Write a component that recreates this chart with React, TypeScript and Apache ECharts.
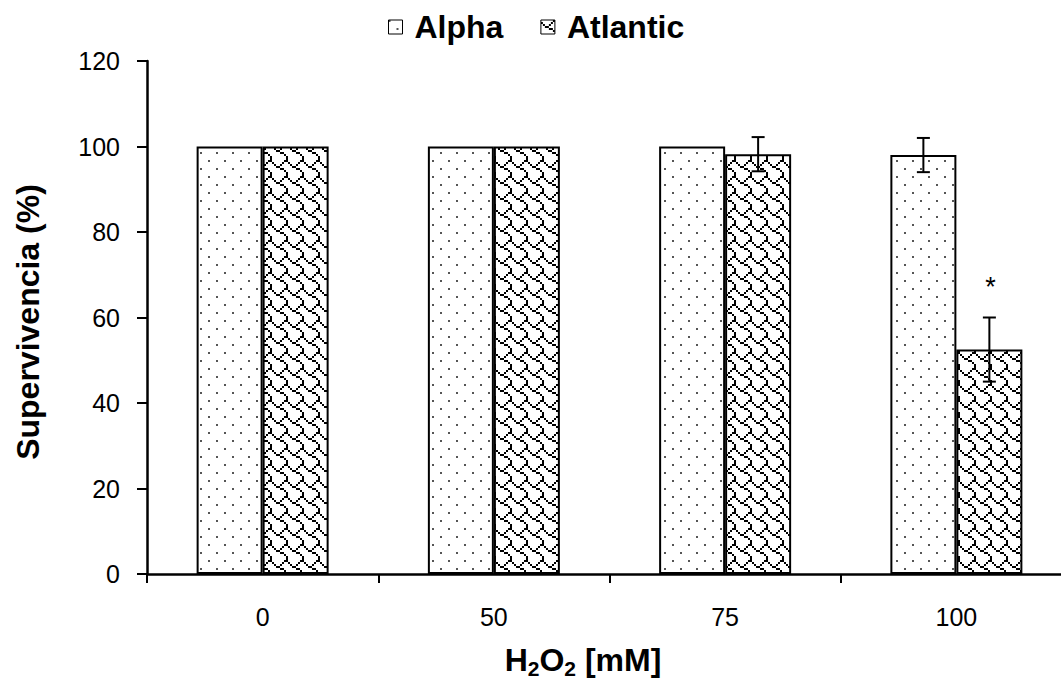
import React, { useEffect, useRef } from "react";
import * as echarts from "echarts";

// H2O2 concentrations (mM) and survival values (%) for each line
const categories = ["0", "50", "75", "100"];
const alphaMeans = [100, 100, 100, 98];
const alphaErrors = [0, 0, 0, 4];
const atlanticMeans = [100, 100, 98.2, 52.5];
const atlanticErrors = [0, 0, 4, 7.5];
const alphaMarks = ["", "", "", ""];
const atlanticMarks = ["", "", "", "*"];
const seriesNames = ["Alpha", "Atlantic"];

const FONT = "'Liberation Sans', Arial, sans-serif";
const BAR_WIDTH = 66;

// 8x8 fill bitmaps (MSB = leftmost pixel)
const dotBits = [0x80, 0x00, 0x00, 0x00, 0x08, 0x00, 0x00, 0x00];
const shingleBits = [0x03, 0x84, 0x48, 0x30, 0x0c, 0x02, 0x01, 0x01];

function bitmapTile(rows: number[], scale: number, color: string, dot: number) {
  const c = document.createElement("canvas");
  c.width = 8 * scale;
  c.height = 8 * scale;
  const ctx = c.getContext("2d")!;
  ctx.fillStyle = "#ffffff";
  ctx.fillRect(0, 0, c.width, c.height);
  ctx.fillStyle = color;
  rows.forEach((bits, r) => {
    for (let col = 0; col < 8; col++) {
      if (bits & (0x80 >> col)) ctx.fillRect(col * scale, r * scale, dot, dot);
    }
  });
  return c;
}

function errorSeries(means: number[], errors: number[], marks: string[], side: number) {
  return {
    type: "custom",
    silent: true,
    z: 10,
    data: means.map((m, i) => [i, m, errors[i], side]),
    renderItem: (params: any, api: any) => {
      const cat = api.value(0);
      const mean = api.value(1);
      const err = api.value(2);
      const s = api.value(3);
      const base = api.coord([cat, mean]);
      const x = base[0] + (s * BAR_WIDTH) / 2;
      const top = api.coord([cat, mean + err])[1];
      const bottom = api.coord([cat, mean - err])[1];
      const children: any[] = [];
      const ls = { stroke: "#000", lineWidth: 2 };
      if (err > 0) {
        children.push({ type: "line", shape: { x1: x, y1: top, x2: x, y2: bottom }, style: ls });
        children.push({ type: "line", shape: { x1: x - 6.5, y1: top, x2: x + 6.5, y2: top }, style: ls });
        children.push({ type: "line", shape: { x1: x - 6.5, y1: bottom, x2: x + 6.5, y2: bottom }, style: ls });
      }
      const mark = marks[params.dataIndex];
      if (mark) {
        children.push({
          type: "text",
          x: x + 1,
          y: top - 17,
          style: {
            text: mark,
            font: `27px ${FONT}`,
            fill: "#000",
            align: "center",
            verticalAlign: "bottom",
          },
        });
      }
      return { type: "group", children };
    },
  };
}

export default function App() {
  const ref = useRef<HTMLDivElement>(null);

  useEffect(() => {
    if (!ref.current) return;
    const chart = echarts.init(ref.current, null, { renderer: "svg" });

    const dotTile = bitmapTile(dotBits, 2, "#555555", 2);
    const shingleTile = bitmapTile(shingleBits, 2, "#000000", 2);

    const barStyle = (tile: HTMLCanvasElement) => ({
      color: { image: tile, repeat: "repeat", imageWidth: 16, imageHeight: 16 } as any,
      borderColor: "#000",
      borderWidth: 2,
    });

    chart.setOption({
      animation: false,
      backgroundColor: "#ffffff",
      textStyle: { fontFamily: FONT, color: "#000" },
      legend: {
        data: seriesNames,
        left: 383,
        top: 6,
        icon: "rect",
        itemWidth: 14,
        itemHeight: 14,
        itemGap: 37,
        itemStyle: { borderColor: "#000", borderWidth: 1 },
        textStyle: {
          fontSize: 32,
          fontWeight: "bold",
          fontFamily: FONT,
          color: "#000",
          padding: [0, 0, 0, 7],
        },
      },
      grid: { left: 147, top: 61, width: 925, height: 513, containLabel: false },
      xAxis: {
        type: "category",
        data: categories,
        axisLine: { lineStyle: { color: "#000", width: 2.5 } },
        axisTick: { show: true, length: 9, lineStyle: { color: "#000", width: 2 } },
        axisLabel: { fontSize: 25, color: "#000", fontFamily: FONT, margin: 30 },
      },
      yAxis: {
        type: "value",
        min: 0,
        max: 120,
        interval: 20,
        splitLine: { show: false },
        axisLine: { show: true, lineStyle: { color: "#000", width: 2.5 } },
        axisTick: { show: true, length: 10, lineStyle: { color: "#000", width: 2 } },
        axisLabel: { fontSize: 25, color: "#000", fontFamily: FONT, margin: 27 },
      },
      series: [
        {
          name: seriesNames[0],
          type: "bar",
          data: alphaMeans,
          barWidth: BAR_WIDTH,
          barGap: "0%",
          itemStyle: barStyle(dotTile),
        },
        {
          name: seriesNames[1],
          type: "bar",
          data: atlanticMeans,
          barWidth: BAR_WIDTH,
          barGap: "0%",
          itemStyle: barStyle(shingleTile),
        },
        errorSeries(alphaMeans, alphaErrors, alphaMarks, -1),
        errorSeries(atlanticMeans, atlanticErrors, atlanticMarks, 1),
      ],
      graphic: [
        {
          type: "text",
          x: 28,
          y: 322,
          rotation: Math.PI / 2,
          style: {
            text: "Supervivencia (%)",
            font: `bold 32px ${FONT}`,
            fill: "#000",
            align: "center",
            verticalAlign: "middle",
          },
        },
        {
          type: "text",
          x: 583,
          y: 663,
          style: {
            text: "{b|H}{s|2}{b|O}{s|2}{b| [mM]}",
            align: "center",
            verticalAlign: "middle",
            rich: {
              b: { font: `bold 32px ${FONT}`, fill: "#000", lineHeight: 32, padding: [0, 0, 6, 0] },
              s: { font: `bold 21px ${FONT}`, fill: "#000", lineHeight: 21, verticalAlign: "bottom" },
            },
          },
        },
      ],
    });

    return () => chart.dispose();
  }, []);

  return (
    <div style={{ position: "absolute", left: 0, top: 0, width: 1061, height: 683, overflow: "hidden", background: "#fff" }}>
      <div ref={ref} style={{ position: "absolute", left: 0, top: 0, width: 1080, height: 683 }} />
    </div>
  );
}
